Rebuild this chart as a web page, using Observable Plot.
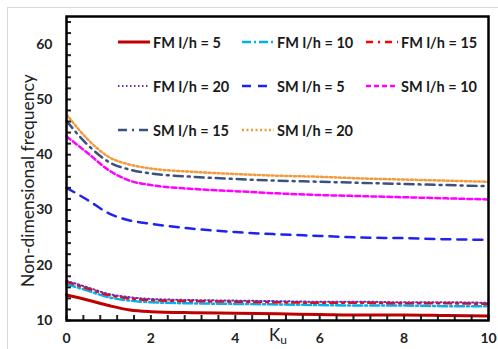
<!DOCTYPE html>
<html>
<head>
<meta charset="utf-8">
<script src="https://cdn.jsdelivr.net/npm/d3@7"></script>
<script src="https://cdn.jsdelivr.net/npm/@observablehq/plot@0.6"></script>
<style>
  html, body { margin: 0; padding: 0; background: #fff; overflow: hidden; }
  #wrap { position: relative; width: 498px; height: 349px; font-family: Lato, "Open Sans", sans-serif; }
  #border { position: absolute; left: 7px; top: 7px; width: 600px; height: 500px; border: 1px solid #d9d9d9; }
  #chart { position: absolute; left: 0; top: 0; }
  .leg { position: absolute; display: flex; align-items: center; font-weight: 700; font-size: 14.5px; color: #1a1a1a; white-space: nowrap; }
  .leg svg { margin-right: 3px; }
  #xlab { position: absolute; left: 269px; top: 326px; font-size: 17px; color: #222; line-height: 1; }
  #xlab sub { font-size: 12px; vertical-align: -3px; line-height: 1; }
</style>
</head>
<body>
<div id="wrap">
  <div id="border"></div>
  <div id="chart"></div>
  <div id="xlab">K<sub>u</sub></div>
</div>
<script>
// ---- data ----
const Ku = [0, 0.5, 1, 1.5, 2, 3, 4, 5, 6, 7, 8, 9, 10];
const FM5  = [14.6, 13.7, 12.7, 11.9, 11.6, 11.4, 11.3, 11.2, 11.1, 11.0, 11.0, 10.9, 10.8];
const FM10 = [16.6, 15.4, 14.2, 13.6, 13.3, 13.1, 13.0, 12.9, 12.8, 12.7, 12.7, 12.6, 12.6];
const FM15 = [17.0, 15.8, 14.6, 14.0, 13.7, 13.5, 13.4, 13.3, 13.2, 13.2, 13.1, 13.1, 13.0];
const FM20 = [17.2, 16.0, 14.8, 14.2, 13.9, 13.7, 13.6, 13.5, 13.4, 13.4, 13.3, 13.3, 13.2];
const SM5  = [34.0, 31.8, 29.4, 28.1, 27.5, 26.6, 26.0, 25.6, 25.3, 25.0, 24.9, 24.7, 24.6];
const SM10 = [43.3, 40.3, 37.2, 35.3, 34.5, 33.8, 33.4, 33.0, 32.7, 32.5, 32.3, 32.1, 31.9];
const SM15 = [46.1, 41.8, 38.7, 37.3, 36.6, 36.0, 35.6, 35.3, 35.1, 34.9, 34.7, 34.5, 34.3];
const SM20 = [47.3, 42.8, 39.6, 38.2, 37.5, 36.9, 36.5, 36.2, 36.0, 35.7, 35.5, 35.3, 35.1];
const seriesNames = ["FM l/h = 5", "FM l/h = 10", "FM l/h = 15", "FM l/h = 20",
                     "SM l/h = 5", "SM l/h = 10", "SM l/h = 15", "SM l/h = 20"];
const seriesValues = [FM5, FM10, FM15, FM20, SM5, SM10, SM15, SM20];
const xTicks = [0, 2, 4, 6, 8, 10];
const yTicks = [10, 20, 30, 40, 50, 60];
const yLabel = "Non-dimensional frequency";

// ---- styles ----
const colors = ["#C00000", "#00B0F0", "#FF0000", "#7030A0", "#2222EE", "#FF00FF", "#3A5280", "#F39A3C"];
const dashes = ["none", "9 3 2 3", "7 5 2 5", "1.5 2.5", "9 7", "5 3", "9 5 2 5", "2 2.5"];
const widths = [3, 2.5, 2.5, 2, 2.5, 2.5, 2.5, 2.5];

const xMinor = d3.range(0, 10.001, 0.4);
const yMinor = d3.range(10, 65.001, 2);

const rows = [];
seriesNames.forEach((s, i) => Ku.forEach((k, j) => rows.push({series: s, Ku: k, v: seriesValues[i][j]})));

const lineMarks = seriesNames.map((s, i) =>
  Plot.line(rows.filter(r => r.series === s), {
    x: "Ku", y: "v", curve: "monotone-x",
    stroke: colors[i], strokeWidth: widths[i], strokeDasharray: dashes[i] === "none" ? null : dashes[i]
  })
);

const chart = Plot.plot({
  width: 498, height: 349,
  marginLeft: 66, marginRight: 10, marginTop: 16, marginBottom: 29,
  style: {fontFamily: "Lato, 'Open Sans', sans-serif", background: "transparent", color: "#222"},
  x: {domain: [0, 10]},
  y: {domain: [10, 65]},
  marks: [
    ...lineMarks,
    Plot.axisX({ticks: xMinor, tickSize: -5, tickFormat: () => "", label: null, strokeWidth: 2}),
    Plot.axisY({ticks: yMinor, tickSize: -5, tickFormat: () => "", label: null, strokeWidth: 2}),
    Plot.axisX({ticks: xTicks, tickSize: 0, tickPadding: 13, fontSize: 14, fontWeight: "bold", label: null}),
    Plot.axisY({ticks: yTicks, tickSize: 0, tickPadding: 14, fontSize: 14, fontWeight: "bold", label: null}),
    Plot.text([yLabel], {frameAnchor: "left", textAnchor: "middle", rotate: -90, dx: -38, dy: 12, fontSize: 17.5, fill: "#222"}),
    Plot.frame({stroke: "#000", strokeWidth: 2.5})
  ]
});
document.getElementById("chart").appendChild(chart);

// ---- legend (inside plot) ----
const legCols = [118, 242, 366];
const legRows = [42, 86, 130];
const wrap = document.getElementById("wrap");
seriesNames.forEach((s, i) => {
  const c = i % 3, r = Math.floor(i / 3);
  const div = document.createElement("div");
  div.className = "leg";
  div.style.left = legCols[c] + "px";
  div.style.top = (legRows[r] - 9) + "px";
  div.style.height = "18px";
  const ns = "http://www.w3.org/2000/svg";
  const svg = document.createElementNS(ns, "svg");
  svg.setAttribute("width", 32); svg.setAttribute("height", 10);
  const ln = document.createElementNS(ns, "line");
  ln.setAttribute("x1", 0); ln.setAttribute("x2", 32); ln.setAttribute("y1", 5); ln.setAttribute("y2", 5);
  ln.setAttribute("stroke", colors[i]); ln.setAttribute("stroke-width", widths[i]);
  if (dashes[i] !== "none") ln.setAttribute("stroke-dasharray", dashes[i]);
  svg.appendChild(ln);
  div.appendChild(svg);
  const t = document.createElement("span");
  t.textContent = s;
  div.appendChild(t);
  wrap.appendChild(div);
});
</script>
</body>
</html>
